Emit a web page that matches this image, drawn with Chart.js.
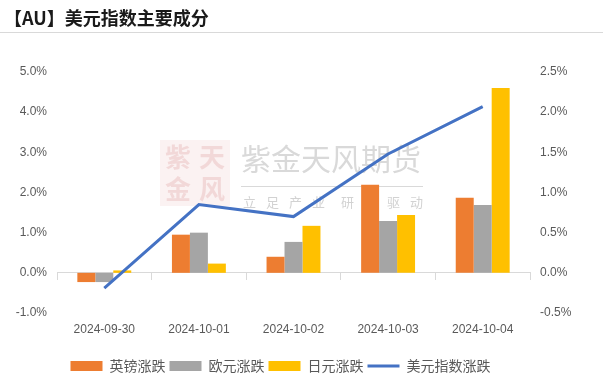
<!DOCTYPE html>
<html>
<head>
<meta charset="utf-8">
<script src="https://cdn.jsdelivr.net/npm/chart.js@4.4.1/dist/chart.umd.min.js"></script>
<style>
  body { margin: 0; background: #fff; }
  #wrap { position: relative; width: 603px; height: 391px; overflow: hidden; }
  #title {
    position: absolute; left: 4px; top: 4px;
    font: bold 18px "Noto Sans CJK SC", serif;
    color: #1a1a1a;
  }
  #rule { position: absolute; left: 0; top: 32px; width: 603px; height: 1px; background: #d9d9d9; }
  #box { position: absolute; left: 0; top: 0; width: 603px; height: 391px; }
</style>
</head>
<body>
<div id="wrap">
  <div id="box"><canvas id="mixChart"></canvas></div>
  <div id="title">【AU】美元指数主要成分</div>
  <div id="rule"></div>
</div>
<script>
/* ----- dati ----- */
const dates = ["2024-09-30", "2024-10-01", "2024-10-02", "2024-10-03", "2024-10-04"];
const gbpChange = [-0.23, 0.95, 0.40, 2.19, 1.87];
const eurChange = [-0.23, 1.00, 0.77, 1.29, 1.69];
const jpyChange = [0.06, 0.23, 1.17, 1.44, 4.60];
const usdIndexChange = [-0.19, 0.85, 0.70, 1.48, 2.07];

const leftTicks = [-1, 0, 1, 2, 3, 4, 5];
const rightTicks = [-0.5, 0, 0.5, 1, 1.5, 2, 2.5];

const labelFont = { family: "'Liberation Sans', 'Noto Sans CJK SC', sans-serif", size: 12 };
const textColor = "#595959";
const axisColor = "#d9d9d9";

/* ----- watermark ----- */
const watermark = {
  id: "watermark",
  beforeDatasetsDraw(chart) {
    const ctx = chart.ctx;
    ctx.save();
    // logo
    ctx.fillStyle = "rgba(235, 185, 185, 0.18)";
    ctx.fillRect(160, 140, 70, 66);
    ctx.fillStyle = "rgba(220, 150, 150, 0.28)";
    ctx.font = "bold 26px 'Noto Sans CJK SC'";
    ctx.textAlign = "center";
    ctx.textBaseline = "middle";
    ctx.fillText("紫", 178, 157);
    ctx.fillText("天", 212, 157);
    ctx.fillText("金", 178, 189);
    ctx.fillText("风", 212, 189);
    // testo
    ctx.fillStyle = "#d9d9d9";
    ctx.font = "30px 'Noto Sans CJK SC'";
    ctx.textAlign = "left";
    ctx.fillText("紫金天风期货", 241, 159);
    ctx.fillRect(241, 186, 182, 1);
    ctx.fillStyle = "#d2d2d2";
    ctx.font = "13px 'Noto Sans CJK SC'";
    const sub = ["立", "足", "产", "业", "研", "究", "驱", "动"];
    const subX = [243, 266, 289, 312, 341, 364, 387, 410];
    sub.forEach((c, i) => ctx.fillText(c, subX[i], 202));
    ctx.restore();
  }
};

/* ----- legenda spostata a sinistra ----- */
const legendShift = {
  id: "legendShift",
  afterLayout(chart) {
    chart.legend.left -= 21;
    chart.legend.right -= 21;
  }
};

/* ----- grafico ----- */
const pct = (v) => v.toFixed(1) + "%";

let mixChart = new Chart("mixChart", {
  data: {
    labels: dates,
    datasets: [
      {
        type: "line",
        label: "美元指数涨跌",
        data: usdIndexChange,
        yAxisID: "y1",
        borderColor: "#4472C4",
        backgroundColor: "#4472C4",
        borderWidth: 3,
        pointRadius: 0,
        pointStyle: "line",
        tension: 0,
        order: 0,
      },
      {
        type: "bar",
        label: "英镑涨跌",
        data: gbpChange,
        backgroundColor: "#ED7D31",
        borderWidth: 0,
        pointStyle: "rect",
        order: 1,
      },
      {
        type: "bar",
        label: "欧元涨跌",
        data: eurChange,
        backgroundColor: "#A5A5A5",
        borderWidth: 0,
        pointStyle: "rect",
        order: 1,
      },
      {
        type: "bar",
        label: "日元涨跌",
        data: jpyChange,
        backgroundColor: "#FFC000",
        borderWidth: 0,
        pointStyle: "rect",
        order: 1,
      },
    ],
  },
  options: {
    responsive: true,
    maintainAspectRatio: false,
    animation: false,
    layout: { padding: { top: 72, left: 0, right: 0, bottom: 8 } },
    datasets: { bar: { barPercentage: 1, categoryPercentage: 0.57 } },
    plugins: {
      title: { display: false },
      tooltip: { enabled: false },
      legend: {
        position: "bottom",
        labels: {
          // la linea va in fondo alla legenda
          sort: (a, b) => (a.datasetIndex || 4) - (b.datasetIndex || 4),
          usePointStyle: true,
          pointStyleWidth: 32,
          boxHeight: 10,
          padding: 4,
          color: textColor,
          font: { family: "'Noto Sans CJK SC', sans-serif", size: 14 },
        },
      },
    },
    scales: {
      x: {
        type: "category",
        position: { y: 0 },
        offset: true,
        ticks: { display: false },
        grid: { display: true, offset: true, drawOnChartArea: false, drawTicks: true, tickLength: 7, color: axisColor },
        border: { display: true, color: axisColor, width: 1 },
      },
      x2: {
        type: "category",
        axis: "x",
        position: "bottom",
        labels: dates,
        offset: true,
        afterFit: (s) => { s.height = 42; },
        grid: { display: false, drawTicks: false },
        border: { display: false },
        ticks: { color: textColor, font: labelFont, padding: 9, maxRotation: 0 },
      },
      y: {
        type: "linear",
        position: "left",
        min: -1,
        max: 5,
        afterBuildTicks: (s) => { s.ticks = leftTicks.map((v) => ({ value: v })); },
        afterFit: (s) => { s.width = 57; },
        grid: { display: false, drawTicks: false },
        border: { display: false },
        ticks: { color: textColor, font: labelFont, padding: 10, callback: (v) => pct(v) },
      },
      y1: {
        type: "linear",
        position: "right",
        min: -0.5,
        max: 2.5,
        afterBuildTicks: (s) => { s.ticks = rightTicks.map((v) => ({ value: v })); },
        afterFit: (s) => { s.width = 73; },
        grid: { display: false, drawTicks: false },
        border: { display: false },
        ticks: { color: textColor, font: labelFont, padding: 10, callback: (v) => pct(v) },
      },
    },
  },
  plugins: [watermark, legendShift],
});
</script>
</body>
</html>
